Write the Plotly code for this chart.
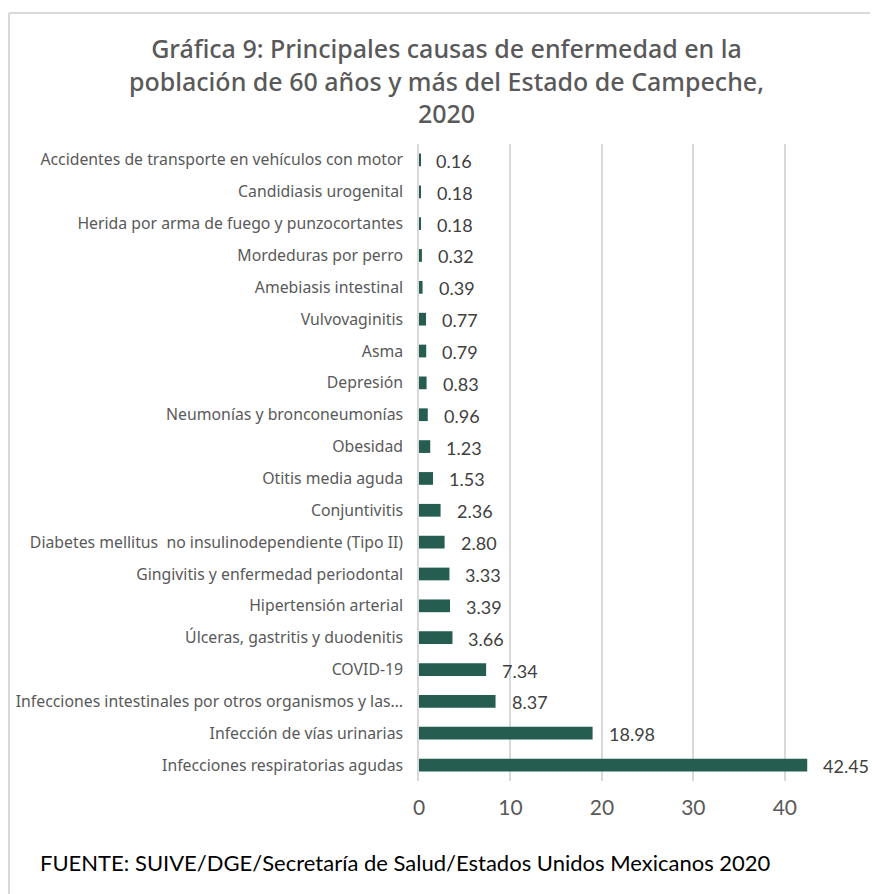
import plotly.graph_objects as go

categorias = [
    "Accidentes de transporte en vehículos con motor",
    "Candidiasis urogenital",
    "Herida por arma de fuego y punzocortantes",
    "Mordeduras por perro",
    "Amebiasis intestinal",
    "Vulvovaginitis",
    "Asma",
    "Depresión",
    "Neumonías y bronconeumonías",
    "Obesidad",
    "Otitis media aguda",
    "Conjuntivitis",
    "Diabetes mellitus  no insulinodependiente (Tipo II)",
    "Gingivitis y enfermedad periodontal",
    "Hipertensión arterial",
    "Úlceras, gastritis y duodenitis",
    "COVID-19",
    "Infecciones intestinales por otros organismos y las…",
    "Infección de vías urinarias",
    "Infecciones respiratorias agudas",
]
valores = [0.16, 0.18, 0.18, 0.32, 0.39, 0.77, 0.79, 0.83, 0.96, 1.23,
           1.53, 2.36, 2.80, 3.33, 3.39, 3.66, 7.34, 8.37, 18.98, 42.45]
x_ticks = [0, 10, 20, 30, 40]

OFF = 8  # page body margin
W, H = 878 - OFF, 894 - OFF
L, R, T, B = 419 - OFF, 858 - OFF, 144 - OFF, 781 - OFF


def px_x(p):
    return (p - OFF - L) / (R - L)


def px_y(p):
    return (B - (p - OFF)) / (B - T)


fig = go.Figure()
fig.add_trace(go.Bar(
    y=categorias, x=valores, orientation="h",
    marker=dict(color="#255E50", line=dict(width=0)),
    hoverinfo="x+y",
))

for c, v in zip(categorias, valores):
    fig.add_annotation(
        x=v, y=c, xref="x", yref="y", text=f"{v:.2f}", showarrow=False,
        xanchor="left", yanchor="middle", xshift=14, yshift=-1,
        font=dict(family="Lato", size=18, color="#404040"),
    )

fig.add_annotation(
    x=px_x(446), y=px_y(80), xref="paper", yref="paper",
    text="Gráfica 9: Principales causas de enfermedad en la<br>"
         "población de 60 años y más del Estado de Campeche,<br>2020",
    showarrow=False, xanchor="center", yanchor="middle", align="center",
    font=dict(family="Noto Sans", size=25, color="#595959", weight=500),
)

fig.add_annotation(
    x=px_x(38), y=px_y(862), xref="paper", yref="paper",
    text="FUENTE: SUIVE/DGE/Secretaría de Salud/Estados Unidos Mexicanos 2020",
    showarrow=False, xanchor="left", yanchor="middle",
    font=dict(family="Lato", size=22, color="#000000"),
)

# outer border (top and left edges visible)
fig.add_shape(type="line", xref="paper", yref="paper",
              x0=px_x(9), x1=px_x(890), y0=px_y(13), y1=px_y(13),
              line=dict(color="#d9d9d9", width=2))
fig.add_shape(type="line", xref="paper", yref="paper",
              x0=px_x(9), x1=px_x(9), y0=px_y(13), y1=px_y(900),
              line=dict(color="#d9d9d9", width=2))

fig.update_layout(
    width=W, height=H,
    margin=dict(l=L, r=W - R, t=T, b=H - B, autoexpand=False),
    paper_bgcolor="white", plot_bgcolor="white",
    bargap=0.6,
    showlegend=False,
    xaxis=dict(
        range=[0, 48], tickvals=x_ticks, showgrid=True,
        gridcolor="#d9d9d9", gridwidth=1.5, zeroline=False,
        showline=False, ticks="", ticklabelstandoff=12,
        tickfont=dict(family="Lato", size=21, color="#595959"),
    ),
    yaxis=dict(
        categoryorder="array", categoryarray=categorias[::-1],
        showgrid=False, zeroline=False, showline=True,
        linecolor="#d9d9d9", linewidth=1.5,
        ticks="", ticklabelstandoff=11,
        tickfont=dict(family="Noto Sans", size=15.8, color="#595959"),
    ),
)

fig.write_html("out.html")
